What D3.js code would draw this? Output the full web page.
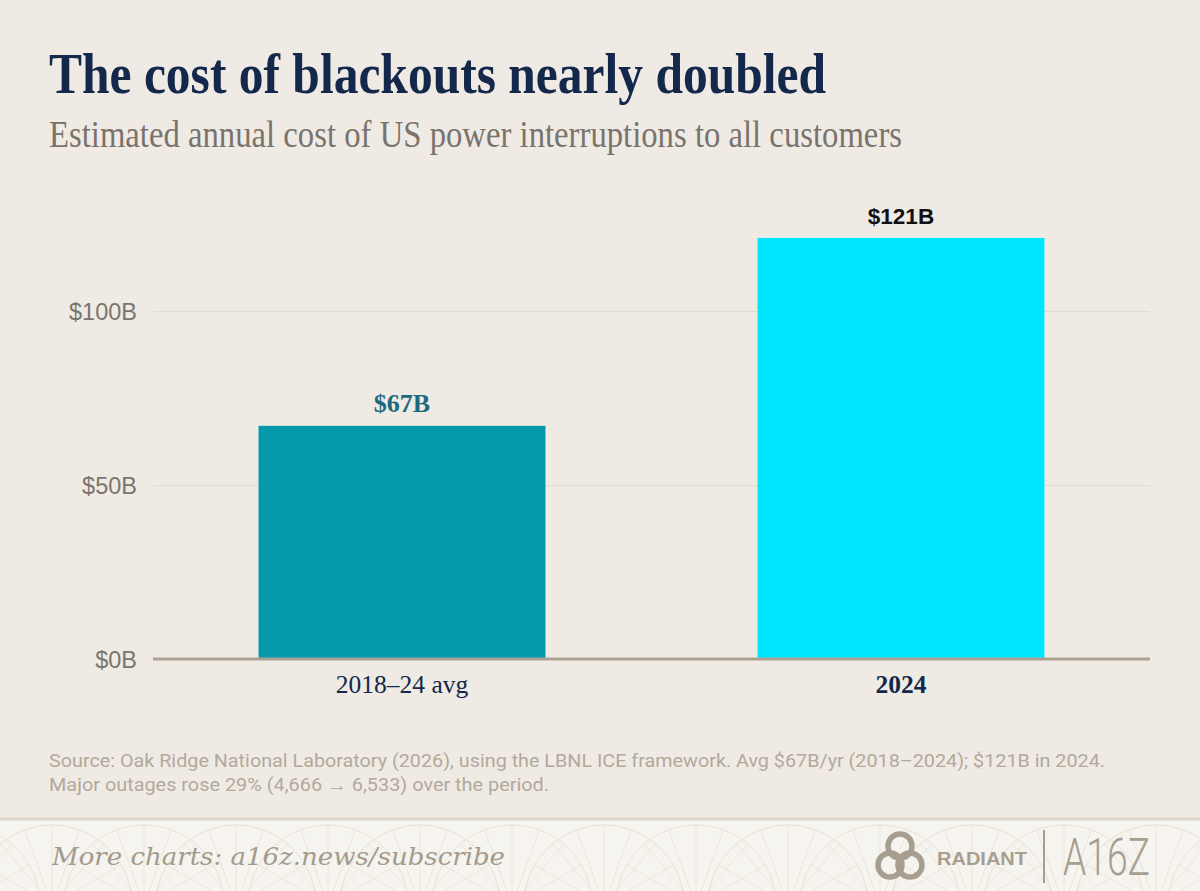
<!DOCTYPE html>
<html>
<head>
<meta charset="utf-8">
<script src="https://cdn.jsdelivr.net/npm/d3@7"></script>
<style>
  html, body { margin: 0; padding: 0; background: #efebe4; }
  svg { display: block; }
</style>
</head>
<body>
<svg id="chart" width="1200" height="891"></svg>
<script>
"use strict";

// chart data
const categories = ["2018–24 avg", "2024"];
const costs = [67, 121]; // $B per year
const valueLabels = ["$67B", "$121B"];
const yTicks = [0, 50, 100];

const title = "The cost of blackouts nearly doubled";
const subtitle = "Estimated annual cost of US power interruptions to all customers";
const sourceLines = [
    "Source: Oak Ridge National Laboratory (2026), using the LBNL ICE framework. Avg $67B/yr (2018–2024); $121B in 2024.",
    "Major outages rose 29% (4,666 → 6,533) over the period.",
];
const footerText = "More charts: a16z.news/subscribe";

// styles
const BAR_COLORS = ["#0499ab", "#00e6ff"];
const LABEL_COLORS = ["#1c6a80", "#111111"];
const NAVY = "#13284a";
const TAN = "#a79e90";

const svg = d3.select("#chart");
const W = 1200;
const H = 891;

svg.append("rect").attr("width", W).attr("height", H).attr("fill", "#efebe4");

// header
svg.append("text")
    .attr("x", 49).attr("y", 93)
    .attr("font-family", "'Liberation Serif', 'DejaVu Serif', serif")
    .attr("font-weight", 700)
    .attr("font-size", 57)
    .attr("fill", NAVY)
    .attr("textLength", 777)
    .attr("lengthAdjust", "spacingAndGlyphs")
    .text(title);

svg.append("text")
    .attr("x", 49).attr("y", 147)
    .attr("font-family", "'Liberation Serif', 'DejaVu Serif', serif")
    .attr("font-size", 37)
    .attr("fill", "#7a736b")
    .attr("textLength", 853)
    .attr("lengthAdjust", "spacingAndGlyphs")
    .text(subtitle);

// scales
const x = d3.scaleBand()
    .domain(categories)
    .range([153, 1150])
    .paddingInner(0.425)
    .paddingOuter(0.2115);

const y = d3.scaleLinear()
    .domain([0, 125])
    .range([659, 224]);

// y axis with gridlines
const yAxis = d3.axisLeft(y)
    .tickValues(yTicks)
    .tickFormat((d) => `$${d}B`)
    .tickSize(-(1150 - 153))
    .tickPadding(16);

const gy = svg.append("g")
    .attr("transform", "translate(153,0)")
    .call(yAxis);
gy.select(".domain").remove();
gy.selectAll(".tick line")
    .attr("stroke", "#e3dccb")
    .attr("stroke-width", 1);
gy.selectAll(".tick text")
    .attr("font-family", "'Liberation Sans', Arial, sans-serif")
    .attr("font-size", 23.5)
    .attr("fill", "#7b756d")
    .attr("dy", "0.36em");

// bars
svg.append("g")
    .selectAll("rect")
    .data(costs)
    .join("rect")
    .attr("x", (d, i) => x(categories[i]))
    .attr("y", (d) => y(d))
    .attr("width", x.bandwidth())
    .attr("height", (d) => y(0) - y(d))
    .attr("fill", (d, i) => BAR_COLORS[i]);

// baseline
svg.append("line")
    .attr("x1", 153).attr("x2", 1150)
    .attr("y1", y(0)).attr("y2", y(0))
    .attr("stroke", "#aba192")
    .attr("stroke-width", 3);

// value labels
svg.append("g")
    .selectAll("text")
    .data(costs)
    .join("text")
    .attr("x", (d, i) => x(categories[i]) + x.bandwidth() / 2)
    .attr("y", (d) => y(d) - 14)
    .attr("text-anchor", "middle")
    .attr("font-family", (d, i) => (i === 0
        ? "'Liberation Serif', 'DejaVu Serif', serif"
        : "'Liberation Sans', Arial, sans-serif"))
    .attr("font-weight", 700)
    .attr("font-size", (d, i) => (i === 0 ? 26 : 22.5))
    .attr("fill", (d, i) => LABEL_COLORS[i])
    .text((d, i) => valueLabels[i]);

// category labels
svg.append("g")
    .selectAll("text")
    .data(categories)
    .join("text")
    .attr("x", (d) => x(d) + x.bandwidth() / 2)
    .attr("y", 693)
    .attr("text-anchor", "middle")
    .attr("font-family", "'Liberation Serif', 'DejaVu Serif', serif")
    .attr("font-weight", (d, i) => (i === 1 ? 700 : 400))
    .attr("font-size", 25.5)
    .attr("fill", NAVY)
    .text((d) => d);

// source note
svg.append("g")
    .selectAll("text")
    .data(sourceLines)
    .join("text")
    .attr("x", 49)
    .attr("y", (d, i) => 767 + i * 24)
    .attr("font-family", "Roboto, 'Liberation Sans', sans-serif")
    .attr("font-size", 17.5)
    .attr("fill", "#b2a99b")
    .attr("textLength", (d, i) => (i === 0 ? 1056 : 500))
    .attr("lengthAdjust", "spacingAndGlyphs")
    .text((d) => d);

// footer band
const footer = svg.append("g");
footer.append("rect")
    .attr("x", 0).attr("y", 819)
    .attr("width", W).attr("height", H - 819)
    .attr("fill", "#f6f4ef");

svg.append("defs").append("clipPath").attr("id", "footclip")
    .append("rect").attr("x", 0).attr("y", 820).attr("width", W).attr("height", H - 820);

// faint fan pattern behind the footer
const pattern = footer.append("g").attr("clip-path", "url(#footclip)");
const fanCenters = d3.range(-40, W + 100, 92);
fanCenters.forEach((cx) => {
    pattern.append("circle")
        .attr("cx", cx).attr("cy", 905)
        .attr("r", 80)
        .attr("fill", "none")
        .attr("stroke", "#e7e2d6")
        .attr("stroke-width", 1);
    d3.range(-60, 61, 20).forEach((a) => {
        const rad = (a - 90) * Math.PI / 180;
        pattern.append("line")
            .attr("x1", cx).attr("y1", 905)
            .attr("x2", cx + 80 * Math.cos(rad))
            .attr("y2", 905 + 80 * Math.sin(rad))
            .attr("stroke", "#ebe6dc")
            .attr("stroke-width", 1);
    });
});

footer.append("line")
    .attr("x1", 0).attr("x2", W)
    .attr("y1", 819).attr("y2", 819)
    .attr("stroke", "#ddd6c7")
    .attr("stroke-width", 3);

footer.append("text")
    .attr("x", 52).attr("y", 865)
    .attr("font-family", "'DejaVu Serif', serif")
    .attr("font-style", "italic")
    .attr("font-size", 24)
    .attr("fill", "#a39b8d")
    .attr("textLength", 453)
    .attr("lengthAdjust", "spacingAndGlyphs")
    .text(footerText);

// radiant mark: three interlocking loops around a small triangle
const mark = footer.append("g")
    .attr("transform", "translate(900,857)")
    .attr("fill", "none")
    .attr("stroke", TAN)
    .attr("stroke-width", 5.5);
[[0, -11, 12], [-10, 8, 12], [10, 8, 12]].forEach(([cx, cy, r]) => {
    mark.append("circle").attr("cx", cx).attr("cy", cy).attr("r", r);
});
mark.append("path")
    .attr("d", "M-5,-1 L5,-1 L0,7 Z")
    .attr("fill", TAN)
    .attr("stroke", "none");

footer.append("text")
    .attr("x", 937).attr("y", 865)
    .attr("font-family", "'Liberation Sans', Arial, sans-serif")
    .attr("font-weight", 700)
    .attr("font-size", 19)
    .attr("fill", TAN)
    .attr("textLength", 90)
    .attr("lengthAdjust", "spacingAndGlyphs")
    .text("RADIANT");

footer.append("line")
    .attr("x1", 1044).attr("x2", 1044)
    .attr("y1", 830).attr("y2", 883)
    .attr("stroke", TAN)
    .attr("stroke-width", 2);

footer.append("text")
    .attr("x", 1063).attr("y", 875)
    .attr("font-family", "Roboto, 'Liberation Sans', sans-serif")
    .attr("font-weight", 300)
    .attr("font-size", 52)
    .attr("fill", TAN)
    .attr("textLength", 87)
    .attr("lengthAdjust", "spacingAndGlyphs")
    .text("A16Z");
</script>
</body>
</html>
